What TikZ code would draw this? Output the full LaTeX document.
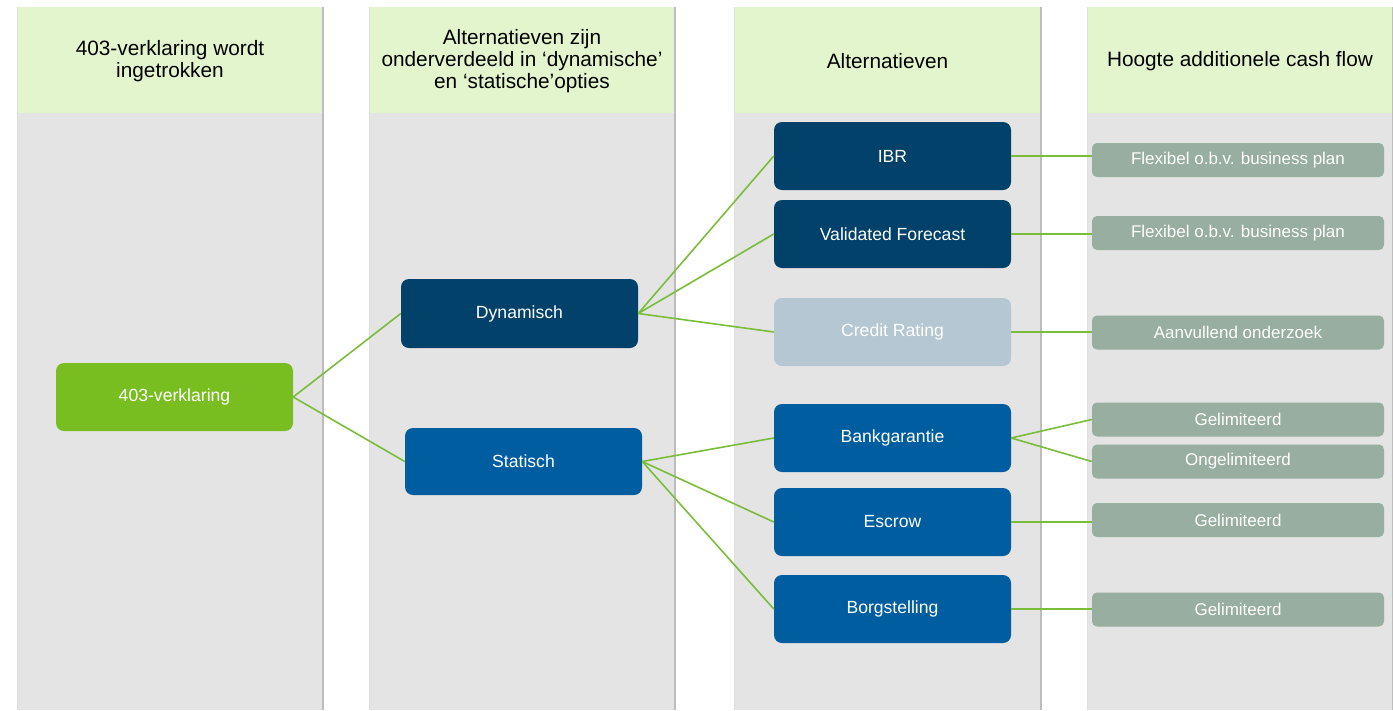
\documentclass[tikz,border=0pt]{standalone}
\usepackage{fontspec}
\setmainfont{Liberation Sans}
\usepackage{tikz}
\usepackage{color}

\definecolor{hdrgreen}{HTML}{E3F5CD}
\definecolor{colgray}{HTML}{E4E4E4}
\definecolor{edgegray}{HTML}{BDBDBD}
\definecolor{lime}{HTML}{78BE20}
\definecolor{navy}{HTML}{024169}
\definecolor{midblue}{HTML}{005DA0}
\definecolor{paleblue}{HTML}{B4C7D3}
\definecolor{sage}{HTML}{97AEA0}
\definecolor{linkgreen}{HTML}{7ABD3A}

\tikzset{
	box/.style={rectangle,rounded corners=8pt,minimum width=237pt,minimum height=68pt,
		text=white,align=center,font=\fontsize{17.6}{20}\selectfont},
	rootbox/.style={box,fill=lime},
	darkbox/.style={box,fill=navy},
	bluebox/.style={box,fill=midblue},
	palebox/.style={box,fill=paleblue},
	cashbox/.style={rectangle,rounded corners=5pt,minimum width=292pt,minimum height=34pt,
		fill=sage,text=white,font=\fontsize{17}{19}\selectfont},
	header/.style={align=center,font=\fontsize{20.8}{22}\selectfont},
	link/.style={draw=linkgreen,line width=1.6pt}
}

\begin{document}
\begin{tikzpicture}[x=1pt,y=-1pt]
	\useasboundingbox (0,0) rectangle (1393,710);
	% columns
	\foreach \xl/\xr in {17/323,369/675,734/1041,1087/1393}{
		\fill[colgray] (\xl,113) rectangle (\xr,710);
		\fill[hdrgreen] (\xl,7) rectangle (\xr,113);
		\draw[edgegray,line width=1.2pt] (\xr,7) -- (\xr,710);
		\draw[edgegray!50,line width=0.6pt] (\xl,7) -- (\xl,710);
	}
	\node[header] (h1) at (170,61) {403-verklaring wordt\\ingetrokken};
	\node[header] (h2) at (522,61) {Alternatieven zijn\\onderverdeeld in ‘dynamische’\\en ‘statische’opties};
	\node[header] (h3) at (887.5,61) {Alternatieven};
	\node[header] (h4) at (1240,61) {Hoogte additionele cash flow};

	\coordinate (c0) at (174.5,397);
	\coordinate (cdyn) at (519.5,313.5);
	\coordinate (cstat) at (523.5,461.5);
	\node[rootbox] (Verklaring) at (c0) {403-verklaring};
	\node[darkbox,minimum height=69pt] (Dynamisch) at (cdyn) {Dynamisch};
	\node[bluebox,minimum height=67pt] (Statisch) at (cstat) {Statisch};

	\node[darkbox] (IBR) at (892.5,156) {IBR};
	\node[darkbox] (Forecast) at (892.5,234) {Validated Forecast};
	\node[palebox] (Rating) at (892.5,332) {Credit Rating};
	\node[bluebox] (Bank) at (892.5,438) {Bankgarantie};
	\node[bluebox] (Escrow) at (892.5,522) {Escrow};
	\node[bluebox] (Borg) at (892.5,609) {Borgstelling};

	\node[cashbox] (FlexA) at (1238,160) {Flexibel o.b.v. business plan};
	\node[cashbox] (FlexB) at (1238,233) {Flexibel o.b.v. business plan};
	\node[cashbox] (Aanv) at (1238,332.5) {Aanvullend onderzoek};
	\node[cashbox] (GelA) at (1238,419.5) {Gelimiteerd};
	\node[cashbox] (Ongel) at (1238,461.5) {Ongelimiteerd};
	\node[cashbox] (GelB) at (1238,520) {Gelimiteerd};
	\node[cashbox] (GelC) at (1238,609.5) {Gelimiteerd};

	% connectors
	\draw[link] (Verklaring.east) -- (Dynamisch.west);
	\draw[link] (Verklaring.east) -- (Statisch.west);
	\foreach \t in {IBR,Forecast,Rating}
		\draw[link] (Dynamisch.east) -- (\t.west);
	\foreach \t in {Bank,Escrow,Borg}
		\draw[link] (Statisch.east) -- (\t.west);
	\draw[link] (IBR.east) -- (IBR.east -| FlexA.west);
	\draw[link] (Forecast.east) -- (Forecast.east -| FlexB.west);
	\draw[link] (Rating.east) -- (Rating.east -| Aanv.west);
	\draw[link] (Bank.east) -- (GelA.west);
	\draw[link] (Bank.east) -- (Ongel.west);
	\draw[link] (Escrow.east) -- (Escrow.east -| GelB.west);
	\draw[link] (Borg.east) -- (Borg.east -| GelC.west);
\end{tikzpicture}
\end{document}
